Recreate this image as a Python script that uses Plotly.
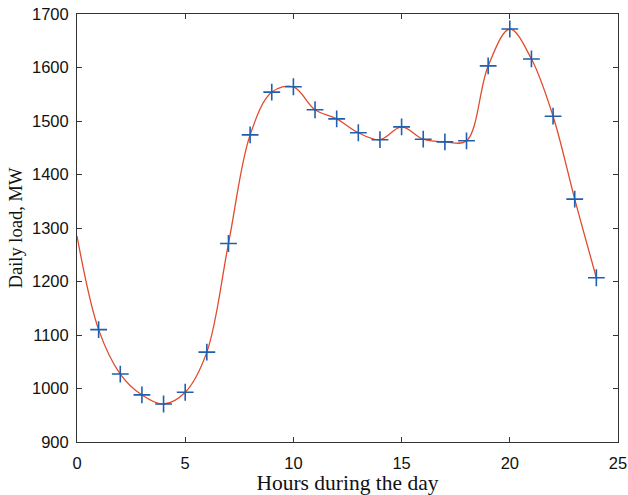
import plotly.graph_objects as go

hours = list(range(1, 25))
load = [1110, 1027, 988, 971, 993, 1068, 1271, 1474, 1554, 1564, 1521, 1504,
        1478, 1465, 1489, 1466, 1461, 1463, 1603, 1672, 1616, 1509, 1354, 1207]
curve_hours = [0] + hours
curve_load = [1285] + load

x_ticks = [0, 5, 10, 15, 20, 25]
y_ticks = [900, 1000, 1100, 1200, 1300, 1400, 1500, 1600, 1700]

fig = go.Figure()
fig.add_trace(go.Scatter(x=curve_hours, y=curve_load, mode="lines",
                         line=dict(color="#E24A2C", width=1.3, shape="spline", smoothing=1.0),
                         showlegend=False, hoverinfo="skip"))
fig.add_trace(go.Scatter(x=hours, y=load, mode="markers",
                         marker=dict(symbol="cross-thin", size=12,
                                     line=dict(color="#1F5FAF", width=1.6)),
                         showlegend=False))

axis_common = dict(showgrid=False, zeroline=False, showline=True, linecolor="#333333",
                   linewidth=1, mirror="ticks", ticks="inside", ticklen=5,
                   tickcolor="#333333", automargin=False,
                   tickfont=dict(family="Liberation Sans, Arial", size=16.5, color="#111"))
fig.update_xaxes(range=[0, 25], tickvals=x_ticks, ticklabelstandoff=6,
                 title=dict(text="Hours during the day",
                            font=dict(family="Liberation Serif, Times New Roman", size=21.5, color="#111"),
                            standoff=2),
                 **axis_common)
fig.update_yaxes(range=[900, 1700], tickvals=y_ticks, ticklabelstandoff=4,
                 title=dict(text="Daily load, MW",
                            font=dict(family="Liberation Serif, Times New Roman", size=18.5, color="#111"),
                            standoff=4),
                 **axis_common)
fig.update_layout(width=628, height=495, margin=dict(l=77, r=10, t=14, b=53),
                  plot_bgcolor="white", paper_bgcolor="white")
fig.write_html("out.html", config={"displayModeBar": False},
               post_script="document.body.style.margin='0';document.body.style.overflow='hidden';")
